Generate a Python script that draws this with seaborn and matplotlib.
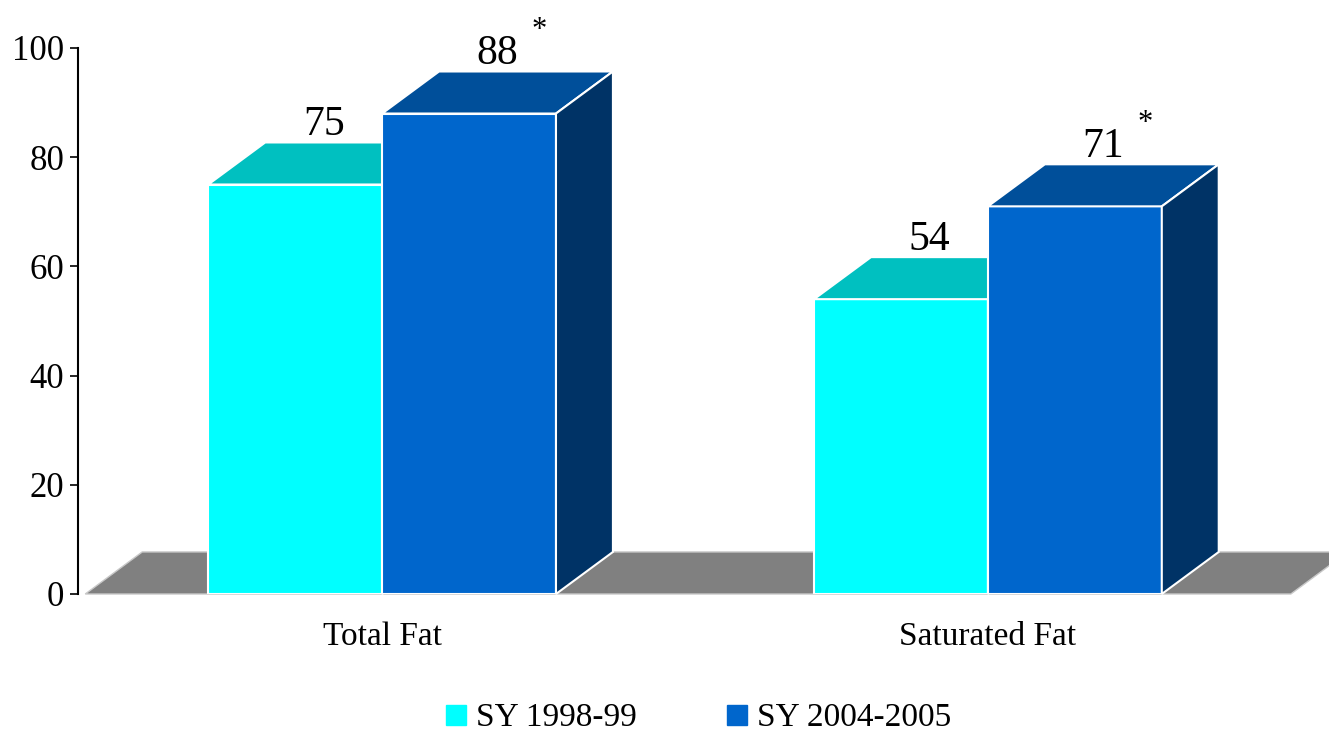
import numpy as np
import pandas as pd
import matplotlib
matplotlib.use("Agg")
import matplotlib.pyplot as plt
from matplotlib.patches import Polygon
from matplotlib.lines import Line2D
import seaborn as sns

categories = ["Total Fat", "Saturated Fat"]
years = ["SY 1998-99", "SY 2004-2005"]
values_1998 = [75, 54]
values_2004 = [88, 71]

front_cols = ["#00FFFF", "#0066CC"]
top_cols = ["#00C0C0", "#004F9A"]
side_cols = ["#00C0C0", "#003366"]

df = pd.DataFrame({
    "category": categories * 2,
    "year": [years[0]] * 2 + [years[1]] * 2,
    "value": values_1998 + values_2004,
})

sns.set_style("white")
plt.rcParams["font.family"] = ["Liberation Serif", "DejaVu Serif"]
plt.rcParams["text.color"] = "black"
plt.rcParams["xtick.color"] = "black"
plt.rcParams["ytick.color"] = "black"

fig = plt.figure(figsize=(13.29, 7.31), dpi=100)
ax = fig.add_axes([78 / 1329, 137 / 731, 1251 / 1329, 546 / 731])

sns.barplot(data=df, x="category", y="value", hue="year", palette=front_cols,
            width=0.574, edgecolor="white", linewidth=1.5, saturation=1,
            legend=False, ax=ax)

dx, dy = 0.094, 7.7

# grey floor
floor = Polygon([(-0.49, 0), (1.5, 0), (1.5 + dx, dy), (-0.49 + dx, dy)],
                closed=True, facecolor="#808080", edgecolor="#c8c8c8",
                linewidth=1, zorder=0.5, clip_on=False)
ax.add_patch(floor)

bars = [p for p in ax.patches if p is not floor]
for i, p in enumerate(bars):
    lvl = i // len(categories)
    z = 2 + lvl
    p.set_zorder(z)
    x0 = p.get_x()
    x1 = x0 + p.get_width()
    h = p.get_height()
    top = Polygon([(x0, h), (x1, h), (x1 + dx, h + dy), (x0 + dx, h + dy)],
                  closed=True, facecolor=top_cols[lvl], edgecolor="white",
                  linewidth=1.5, zorder=z, clip_on=False)
    side = Polygon([(x1, 0), (x1 + dx, dy), (x1 + dx, h + dy), (x1, h)],
                   closed=True, facecolor=side_cols[lvl], edgecolor="white",
                   linewidth=1.5, zorder=z, clip_on=False)
    ax.add_patch(top)
    ax.add_patch(side)
    cx = (x0 + x1) / 2 + dx / 2
    ax.text(cx, h + dy - 0.3, f"{h:.0f}", ha="center", va="bottom",
            fontsize=30, zorder=5, clip_on=False)
    if lvl == 1:
        # significance marker for the later school year
        ax.annotate("*", xy=(cx, h + dy - 0.3), xytext=(30, 20),
                    textcoords="offset points", ha="center", va="bottom",
                    fontsize=22, annotation_clip=False)

ax.set_xlim(-0.502, 1.563)
ax.set_ylim(0, 100)
ax.set_yticks(np.arange(0, 101, 20))
ax.tick_params(axis="y", labelsize=25, length=6, width=1.2,
               direction="out", left=True, pad=4)
ax.tick_params(axis="x", labelsize=24, length=0, pad=20)
ax.set_xlabel("")
ax.set_ylabel("")
for s in ["top", "right", "bottom"]:
    ax.spines[s].set_visible(False)
ax.spines["left"].set_color("black")
ax.spines["left"].set_linewidth(1.5)

handles = [Line2D([], [], marker="s", linestyle="none", markersize=14,
                  markerfacecolor=c, markeredgecolor=c) for c in front_cols]
fig.legend(handles, years, loc="center", bbox_to_anchor=(697 / 1329, 1 - 718 / 731),
           ncol=2, frameon=False, fontsize=24, handletextpad=0.2,
           columnspacing=2.6, handlelength=0.8)

fig.savefig("out.png", dpi=100)
